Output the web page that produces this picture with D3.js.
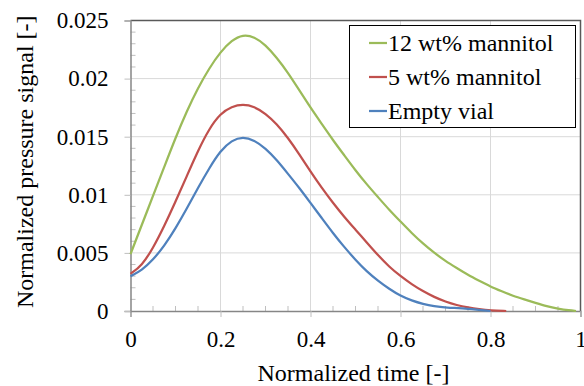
<!DOCTYPE html>
<html>
<head>
<meta charset="utf-8">
<script src="https://cdn.jsdelivr.net/npm/d3@7"></script>
<style>
  body { margin: 0; background: #fff; }
  svg text { font-family: "Liberation Serif", "Times New Roman", serif; fill: #000; }
</style>
</head>
<body>
<div id="chart"></div>
<script>
// Normalized time samples for each curve
let timeGreen = [0, 0.025, 0.05, 0.075, 0.1, 0.125, 0.15, 0.175, 0.2, 0.225, 0.25, 0.275, 0.3, 0.325,
	0.35, 0.375, 0.4, 0.425, 0.45, 0.475, 0.5, 0.525, 0.55, 0.575, 0.6, 0.625, 0.65, 0.675, 0.7, 0.725,
	0.75, 0.775, 0.8, 0.825, 0.85, 0.875, 0.9, 0.925, 0.95, 0.975, 0.99];
let mannitol12 = [0.0049, 0.0074, 0.0099, 0.0124, 0.0149, 0.0172, 0.0192, 0.0209, 0.0223, 0.0233, 0.0238,
	0.0236, 0.0229, 0.0218, 0.0205, 0.0190, 0.0175, 0.0161, 0.0147, 0.0134, 0.0121, 0.0109, 0.0098, 0.0087,
	0.0077, 0.0067, 0.0058, 0.0050, 0.0043, 0.0037, 0.0031, 0.0026, 0.0021, 0.0017, 0.0013, 0.0010, 0.0007,
	0.0004, 0.0002, 0.00005, 0];

let timeRed = [0, 0.025, 0.05, 0.075, 0.1, 0.125, 0.15, 0.175, 0.2, 0.225, 0.25, 0.275, 0.3, 0.325, 0.35,
	0.375, 0.4, 0.425, 0.45, 0.475, 0.5, 0.525, 0.55, 0.575, 0.6, 0.625, 0.65, 0.675, 0.7, 0.725, 0.75,
	0.775, 0.8, 0.835];
let mannitol5 = [0.0032, 0.0039, 0.0054, 0.0073, 0.0094, 0.0116, 0.0138, 0.0157, 0.0170, 0.0176, 0.0178,
	0.0176, 0.0170, 0.0161, 0.0149, 0.0135, 0.0120, 0.0106, 0.0093, 0.0081, 0.0070, 0.0059, 0.0048, 0.0038,
	0.0030, 0.0023, 0.0017, 0.0012, 0.0008, 0.0005, 0.0003, 0.00015, 0.00005, 0];

let timeBlue = [0, 0.025, 0.05, 0.075, 0.1, 0.125, 0.15, 0.175, 0.2, 0.225, 0.25, 0.275, 0.3, 0.325, 0.35,
	0.375, 0.4, 0.425, 0.45, 0.475, 0.5, 0.525, 0.55, 0.575, 0.6, 0.625, 0.65, 0.675, 0.7, 0.75, 0.8];
let emptyVial = [0.0030, 0.0035, 0.0044, 0.0056, 0.0071, 0.0088, 0.0106, 0.0123, 0.0138, 0.0147, 0.0150,
	0.0147, 0.0140, 0.0130, 0.0118, 0.0106, 0.0093, 0.0080, 0.0067, 0.0055, 0.0044, 0.0034, 0.0026, 0.0019,
	0.0013, 0.0009, 0.0006, 0.0004, 0.0003, 0.0002, 0];

let xTicks = [0, 0.2, 0.4, 0.6, 0.8, 1];
let yTicks = [0, 0.005, 0.01, 0.015, 0.02, 0.025];
let seriesNames = ['12 wt% mannitol', '5 wt% mannitol', 'Empty vial'];
let seriesColors = ['#9BBB59', '#C0504D', '#4F81BD'];

let width = 584;
let height = 386;
let L = 130.5, R = 580.5, T = 20.5, B = 311; // plot area edges

let svg = d3.select('#chart').append('svg')
		.attr('width', width)
		.attr('height', height);

let xScale = d3.scaleLinear().domain([0, 1]).range([L, R]);
let yScale = d3.scaleLinear().domain([0, 0.025]).range([B, T]);

// Gridlines
svg.append('g').selectAll('line').data(xTicks.slice(1)).enter().append('line')
		.attr('x1', d => xScale(d)).attr('x2', d => xScale(d))
		.attr('y1', T).attr('y2', B)
		.attr('stroke', '#d9d9d9').attr('stroke-width', 1);
svg.append('g').selectAll('line').data(yTicks.slice(1)).enter().append('line')
		.attr('x1', L).attr('x2', R)
		.attr('y1', d => yScale(d)).attr('y2', d => yScale(d))
		.attr('stroke', '#d9d9d9').attr('stroke-width', 1);

// Plot frame (top and right)
svg.append('path')
		.attr('d', `M${L},${T}H${R}V${B}`)
		.attr('fill', 'none').attr('stroke', '#595959').attr('stroke-width', 1.5);

// Minor ticks, drawn inside the plot
let xMinor = d3.range(0, 1.0001, 0.05).filter(d => Math.round(d * 100) % 20 !== 0);
let yMinor = d3.range(0, 0.02501, 0.001).filter(d => Math.round(d * 1000) % 5 !== 0);
svg.append('g').selectAll('line').data(xMinor).enter().append('line')
		.attr('x1', d => xScale(d)).attr('x2', d => xScale(d))
		.attr('y1', B).attr('y2', B - 5)
		.attr('stroke', '#bfbfbf');
svg.append('g').selectAll('line').data(yMinor).enter().append('line')
		.attr('x1', L).attr('x2', L + 5)
		.attr('y1', d => yScale(d)).attr('y2', d => yScale(d))
		.attr('stroke', '#bfbfbf');

// Axes
let xAxis = svg.append('g')
		.attr('transform', `translate(0, ${B})`)
		.call(d3.axisBottom(xScale).tickValues(xTicks).tickSize(6).tickPadding(14)
				.tickFormat(d3.format('~g')));
let yAxis = svg.append('g')
		.attr('transform', `translate(${L}, 0)`)
		.call(d3.axisLeft(yScale).tickValues(yTicks).tickSize(6).tickPadding(16)
				.tickFormat(d => d === 0 ? '0' : d3.format('~g')(d)));
[xAxis, yAxis].forEach(a => {
	a.select('.domain').attr('stroke', '#868686').attr('stroke-width', 1.5);
	a.selectAll('.tick line').attr('stroke', '#bfbfbf');
	a.selectAll('.tick text').attr('font-size', 23);
});
xAxis.selectAll('.tick text').attr('dy', '0.71em');

// Axis titles
svg.append('text')
		.attr('x', (L + R) / 2 - 2).attr('y', 381)
		.attr('text-anchor', 'middle').attr('font-size', 24)
		.text('Normalized time [-]');
svg.append('text')
		.attr('transform', `translate(33, ${(T + B) / 2 - 4}) rotate(-90)`)
		.attr('text-anchor', 'middle').attr('font-size', 24)
		.text('Normalized pressure signal [-]');

// Curves
let series = [
	{ t: timeGreen, v: mannitol12 },
	{ t: timeRed, v: mannitol5 },
	{ t: timeBlue, v: emptyVial }
];
let line = d3.line()
		.x(d => xScale(d[0]))
		.y(d => yScale(d[1]))
		.curve(d3.curveBasis);
series.forEach((s, i) => {
	svg.append('path')
			.datum(s.t.map((t, j) => [t, s.v[j]]))
			.attr('d', line)
			.attr('fill', 'none')
			.attr('stroke', seriesColors[i])
			.attr('stroke-width', 2.25);
});

// Legend
let legend = svg.append('g');
legend.append('rect')
		.attr('x', 349.5).attr('y', 25.5).attr('width', 226).attr('height', 102)
		.attr('fill', '#fff').attr('stroke', '#000').attr('stroke-width', 1);
let rowY = [43, 77, 111];
seriesNames.forEach((name, i) => {
	legend.append('line')
			.attr('x1', 369).attr('x2', 387)
			.attr('y1', rowY[i]).attr('y2', rowY[i])
			.attr('stroke', seriesColors[i]).attr('stroke-width', 2.25);
	legend.append('text')
			.attr('x', 388).attr('y', rowY[i] + 8)
			.attr('font-size', 24)
			.text(name);
});
</script>
</body>
</html>
